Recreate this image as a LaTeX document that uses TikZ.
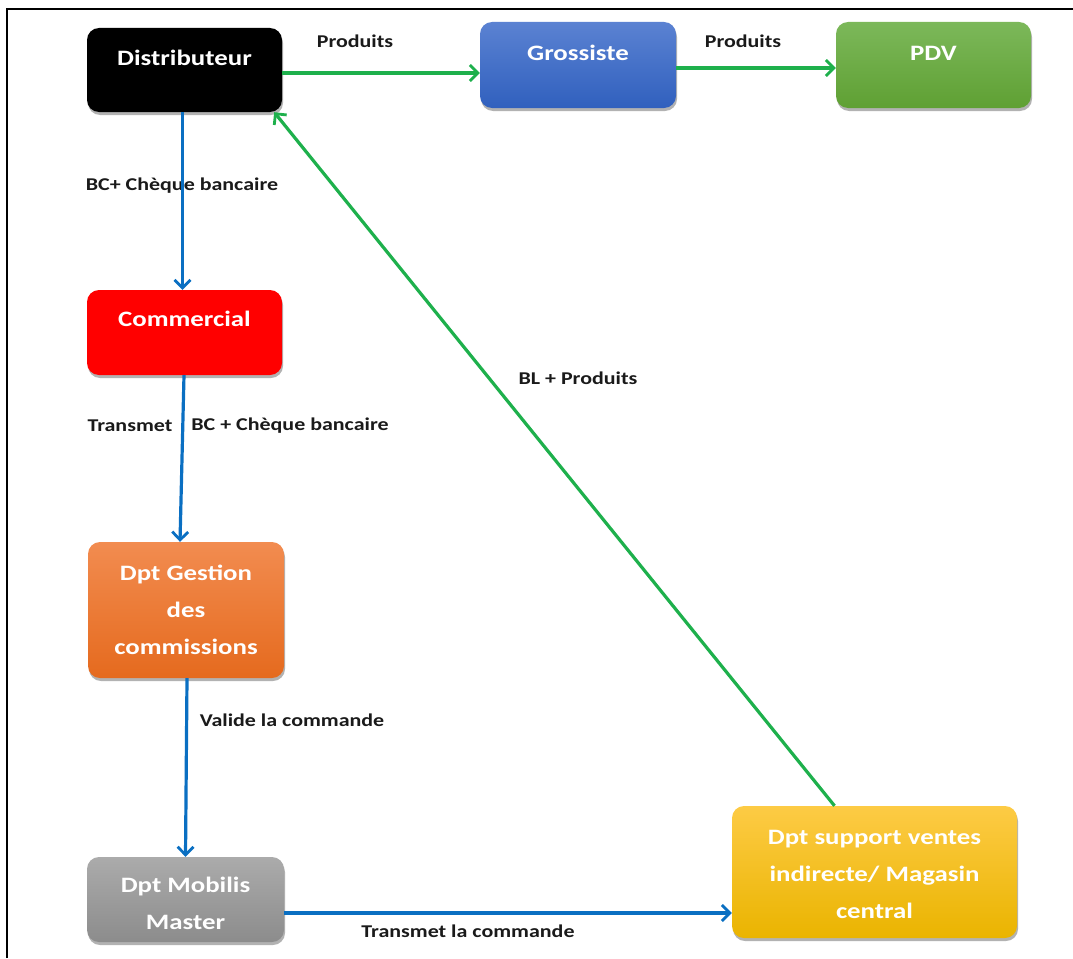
\documentclass[tikz,border=0pt]{standalone}
\usepackage{fontspec}
\setmainfont{Carlito}[FakeStretch=1.22]
\usetikzlibrary{arrows.meta,shadows}

\definecolor{flowgreen}{HTML}{1EB04C}
\definecolor{flowblue}{HTML}{0A6FC2}
\definecolor{labelink}{HTML}{1A1A1A}

\begin{document}
\begin{tikzpicture}[x=1pt,y=-1pt,
  box/.style={rounded corners=12pt, inner sep=0pt, text=white,
    font=\bfseries\fontsize{22}{37}\selectfont,
    drop shadow={shadow xshift=1pt, shadow yshift=-3pt, opacity=0.3, fill=black}},
  toptext/.style={text height=16pt, text depth=#1},
  toptext/.default=24pt,
  lbl/.style={font=\bfseries\fontsize{18}{20}\selectfont, text=labelink, inner sep=1pt},
  tip/.style={-{Straight Barb[length=8pt,width=16pt,line width=2.8pt]}},
  garrow/.style={draw=flowgreen, line width=3.2pt, tip},
  barrow/.style={draw=flowblue, line width=3.2pt, tip}
]
\useasboundingbox (0,0) rectangle (1073,958);

% frame edges
\draw[line width=1.4pt] (7,958) -- (7,9) -- (1073,9);

% boxes
\node[box, toptext, fill=black, minimum width=195pt, minimum height=84pt] (dist) at (184.5,70) {Distributeur};
\node[box, toptext, top color={rgb,255:red,91;green,130;blue,210}, bottom color={rgb,255:red,48;green,96;blue,190},
      minimum width=196pt, minimum height=86pt] (gros) at (578,65) {Grossiste};
\node[box, toptext, top color={rgb,255:red,124;green,184;blue,90}, bottom color={rgb,255:red,95;green,160;blue,51},
      minimum width=195pt, minimum height=86pt] (pdv) at (933.5,65) {PDV};
\node[box, toptext=28pt, fill={rgb,255:red,255;green,0;blue,0}, minimum width=195pt, minimum height=85pt] (com) at (184.5,332.5) {Commercial};
\node[box, align=center, top color={rgb,255:red,242;green,140;blue,80}, bottom color={rgb,255:red,229;green,106;blue,30},
      minimum width=196pt, minimum height=136pt] (ges) at (186,610) {Dpt Gestion\\des\\commissions};
\node[box, align=center, top color={rgb,255:red,171;green,171;blue,171}, bottom color={rgb,255:red,140;green,140;blue,140},
      minimum width=197pt, minimum height=85pt] (mob) at (185.5,899.5) {\rule{0pt}{24pt}Dpt Mobilis\\Master};
\node[box, align=center, top color={rgb,255:red,253;green,203;blue,69}, middle color={rgb,255:red,249;green,195;blue,0},
      bottom color={rgb,255:red,234;green,180;blue,0},
      minimum width=285pt, minimum height=132pt] (sup) at (874.5,872) {\rule{0pt}{20pt}Dpt support ventes\\indirecte/ Magasin\\central};

% labels
\node[lbl] (lprod1) at (355,41) {Produits};
\node[lbl] (lprod2) at (743,41) {Produits};
\node[lbl] (lbc1) at (182,186) {BC+ Chèque bancaire};
\node[lbl] (ltrans) at (130,426) {Transmet};
\node[lbl] (lbc2) at (290,426) {BC + Chèque bancaire};
\node[lbl] (lvalide) at (292,720) {Valide la commande};
\node[lbl] (ltranscmd) at (468,931) {Transmet la commande};
\node[lbl] (lbl) at (578,378) {BL + Produits};

% connectors
\draw[garrow] ([yshift=-3pt]dist.east) -- ([yshift=-8pt]gros.west);
\draw[garrow] ([yshift=-3pt]gros.east) -- ([yshift=-3pt]pdv.west);
\draw[barrow] ([xshift=-2pt]dist.south) -- ([xshift=-2pt]com.north);
\draw[barrow] ([xshift=-0.5pt]com.south) -- ([xshift=-6pt]ges.north);
\draw[barrow] ([xshift=1pt]ges.south) -- ([xshift=0pt]mob.north);
\draw[barrow] ([yshift=-13.5pt]mob.east) -- ([yshift=-41pt]sup.west);
\draw[garrow] ([xshift=-40pt]sup.north) -- ([xshift=-8pt]dist.south east);
\end{tikzpicture}
\end{document}
